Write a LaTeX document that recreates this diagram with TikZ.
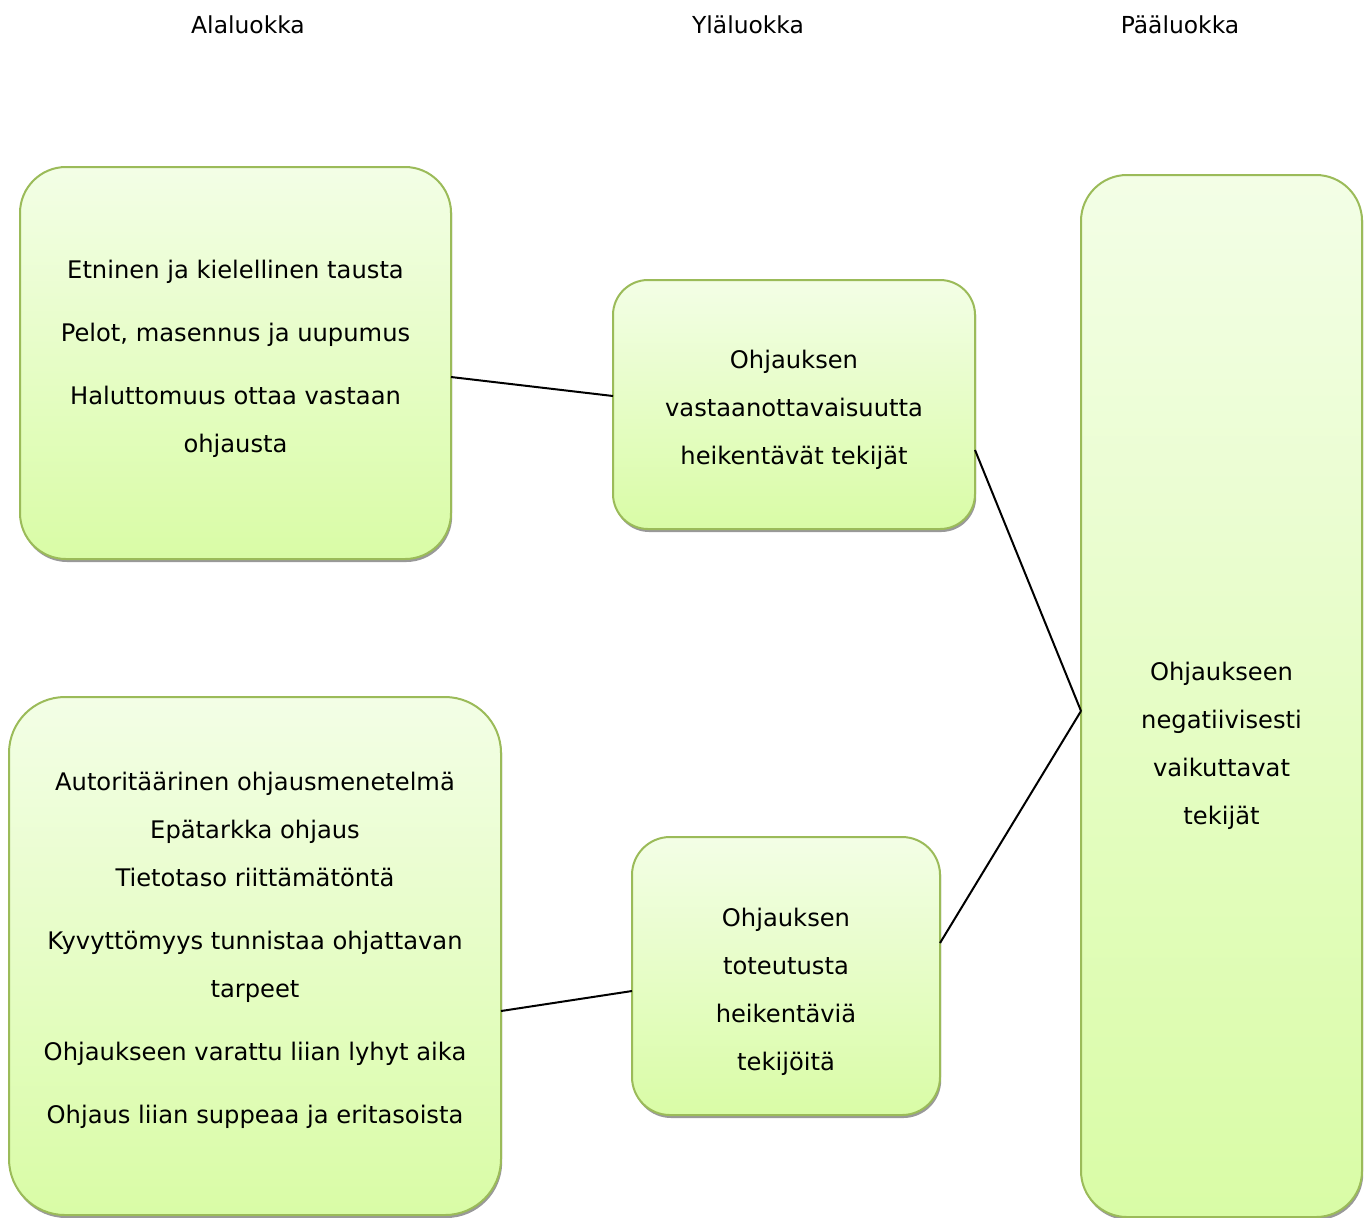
\documentclass[tikz,border=0pt]{standalone}
\usepackage{fontspec}
\setmainfont{DejaVu Sans}
\usetikzlibrary{shadows}
\definecolor{bordergreen}{HTML}{9BBB59}
\definecolor{topgreen}{HTML}{F3FEE6}
\definecolor{botgreen}{HTML}{D9FCA6}
\begin{document}
\begin{tikzpicture}[x=0.5pt,y=-0.5pt,
  box/.style={draw=bordergreen, line width=1pt, rounded corners=#1,
    top color=topgreen, bottom color=botgreen, inner sep=0pt, outer sep=0pt,
    general shadow={shadow xshift=0.6pt, shadow yshift=-1.5pt, fill=black!40}},
  txt/.style={align=center, inner sep=0pt, font=\fontsize{12.1pt}{24pt}\selectfont},
  head/.style={inner sep=0pt, font=\fontsize{11.7pt}{14pt}\selectfont},
  link/.style={line width=1pt, black}]
\useasboundingbox (0,0) rectangle (1368,1217);
% headers
\node[head] (h1) at (248,25) {Alaluokka};
\node[head] (h2) at (748,25) {Yläluokka};
\node[head] (h3) at (1180,25) {Pääluokka};
% boxes
\node[box=23pt, minimum width=215.5pt, minimum height=196pt] (A) at (235.5,363) {};
\node[box=17.5pt, minimum width=181pt, minimum height=124.5pt] (B) at (794,404.5) {};
\node[box=23pt, minimum width=140.5pt, minimum height=521pt] (C) at (1221.5,696) {};
\node[box=28pt, minimum width=246pt, minimum height=259pt] (D) at (255,956) {};
\node[box=19pt, minimum width=154pt, minimum height=139pt] (E) at (786,976) {};
% texts
\node[txt] (At) at (235.5,358.5) {Etninen ja kielellinen tausta\\[7.5pt]Pelot, masennus ja uupumus\\[7.5pt]Haluttomuus ottaa vastaan\\ohjausta};
\node[txt] (Bt) at (794,409.5) {Ohjauksen\\vastaanottavaisuutta\\heikentävät tekijät};
\node[txt] (Ct) at (1221.5,745.5) {Ohjaukseen\\negatiivisesti\\vaikuttavat\\tekijät};
\node[txt] (Dt) at (255,950.5) {Autoritäärinen ohjausmenetelmä\\Epätarkka ohjaus\\Tietotaso riittämätöntä\\[7.5pt]Kyvyttömyys tunnistaa ohjattavan\\tarpeet\\[7.5pt]Ohjaukseen varattu liian lyhyt aika\\[7.5pt]Ohjaus liian suppeaa ja eritasoista};
\node[txt] (Et) at (786,991.5) {Ohjauksen\\toteutusta\\heikentäviä\\tekijöitä};
% connectors
\coordinate (hub) at ([yshift=-7.5pt]C.west);
\draw[link] ([yshift=-7pt]A.east) -- ([yshift=4.25pt]B.west);
\draw[link] ([yshift=-22.75pt]B.east) -- (hub);
\draw[link] ([yshift=16.5pt]E.east) -- (hub);
\draw[link] ([yshift=-27.5pt]D.east) -- ([yshift=-7.5pt]E.west);
\end{tikzpicture}
\end{document}
